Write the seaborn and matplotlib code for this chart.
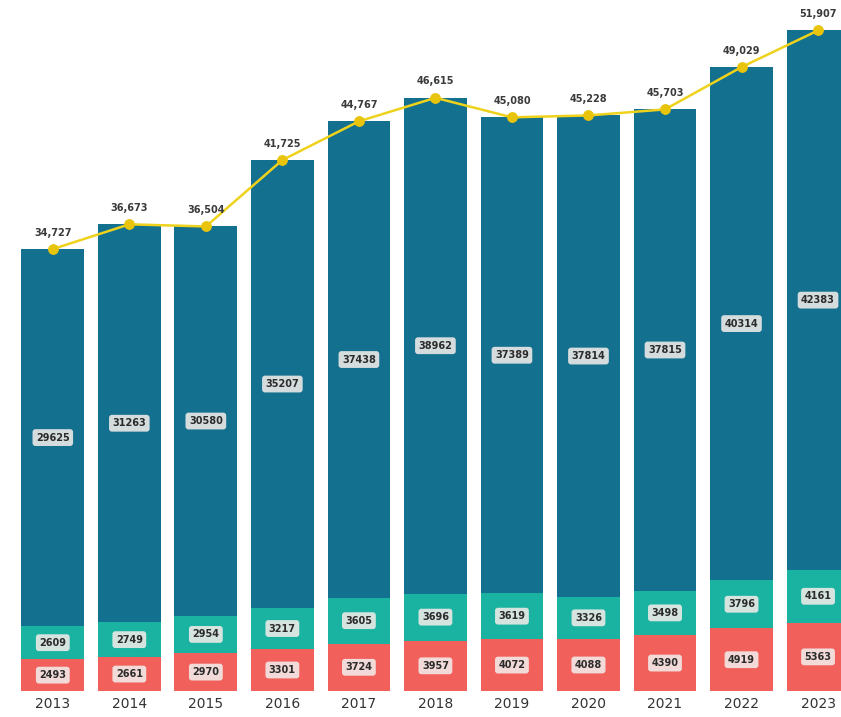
import matplotlib
matplotlib.use("Agg")
import matplotlib.pyplot as plt
import seaborn as sns
import numpy as np
import pandas as pd

years = ["2013", "2014", "2015", "2016", "2017", "2018", "2019", "2020", "2021", "2022", "2023"]
bottom_vals = [2493, 2661, 2970, 3301, 3724, 3957, 4072, 4088, 4390, 4919, 5363]
middle_vals = [2609, 2749, 2954, 3217, 3605, 3696, 3619, 3326, 3498, 3796, 4161]
top_vals = [29625, 31263, 30580, 35207, 37438, 38962, 37389, 37814, 37815, 40314, 42383]
totals = [34727, 36673, 36504, 41725, 44767, 46615, 45080, 45228, 45703, 49029, 51907]

RED = "#f2605c"
TEAL = "#1ab3a1"
BLUE = "#14708f"
YELLOW = "#eed21c"

sns.set_style("white")
plt.rcParams['font.family'] = ['DejaVu Sans']

fig = plt.figure(figsize=(8.41, 7.17), dpi=100)
ax = fig.add_axes([0, 26 / 717, 1, 691 / 717])

df = pd.DataFrame({"year": years, "bottom": bottom_vals, "middle": middle_vals, "top": top_vals})
df["b2"] = df["bottom"] + df["middle"]
df["b3"] = df["b2"] + df["top"]

width = 0.82
for col, c in [("b3", BLUE), ("b2", TEAL), ("bottom", RED)]:
    sns.barplot(data=df, x="year", y=col, color=c, width=width, saturation=1,
                linewidth=0, edgecolor="none", ax=ax)

x = np.arange(len(years))
sns.lineplot(x=x, y=totals, color=YELLOW, linewidth=1.8, marker="o", markersize=7,
             markerfacecolor="#e9c40c", markeredgecolor="#e9c40c", ax=ax)

box = dict(boxstyle="round,pad=0.35,rounding_size=0.3", facecolor="#f1ece9", edgecolor="none", alpha=0.88)
for i in range(len(years)):
    b = bottom_vals[i]
    m = middle_vals[i]
    t = top_vals[i]
    ax.text(i, b / 2, str(b), ha="center", va="center", fontsize=7, fontweight="bold",
            color="#2b2b2b", bbox=box)
    ax.text(i, b + m / 2, str(m), ha="center", va="center", fontsize=7, fontweight="bold",
            color="#2b2b2b", bbox=box)
    ax.text(i, b + m + t / 2, str(t), ha="center", va="center", fontsize=7, fontweight="bold",
            color="#2b2b2b", bbox=box)
    ax.text(i, totals[i] + 900, f"{totals[i]:,}", ha="center", va="bottom", fontsize=7,
            fontweight="bold", color="#3a3a3a")

ax.set_xlim(-0.69, 10.3)
ax.set_ylim(0, 54300)
ax.set_yticks([])
ax.set_xlabel("")
ax.set_ylabel("")
ax.tick_params(axis="x", length=0, pad=4, labelsize=10, labelcolor="#333333")
sns.despine(ax=ax, left=True, bottom=True)

fig.savefig("out.png", dpi=100)
